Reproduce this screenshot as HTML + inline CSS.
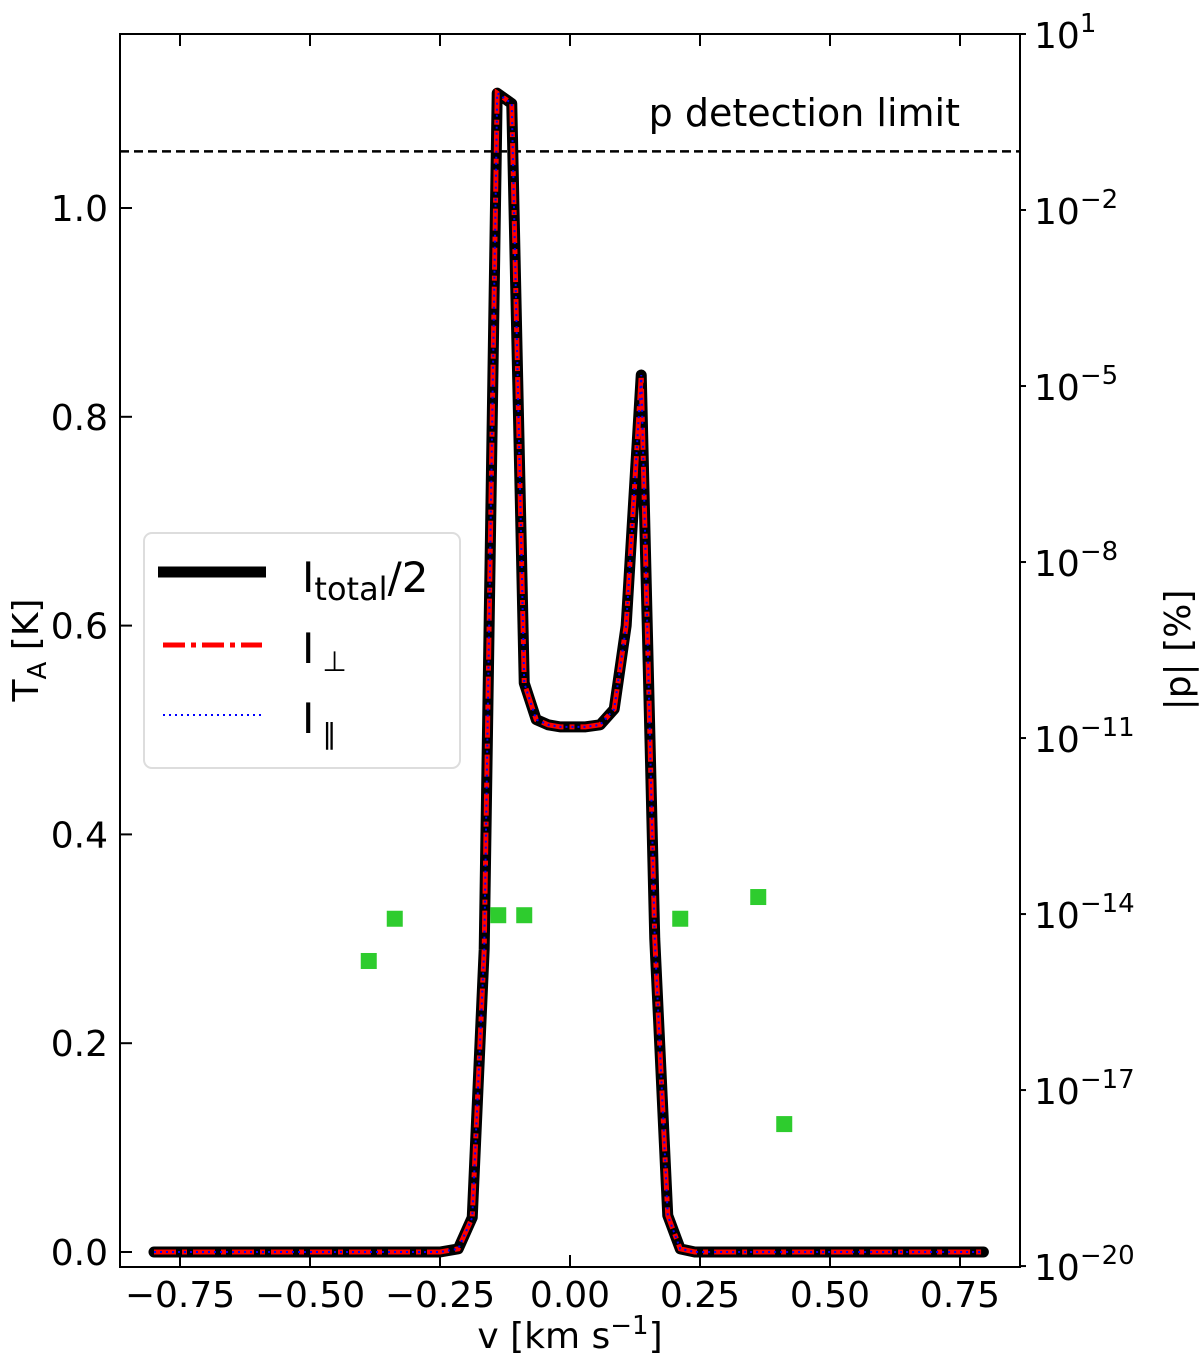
<!DOCTYPE html>
<html><head><meta charset="utf-8"><style>
body{margin:0;background:#fff}
svg{display:block;font-family:"DejaVu Sans","Liberation Sans",sans-serif}
</style></head><body>
<svg id="chart" width="1200" height="1364" viewBox="0 0 1200 1364">
<g id="plot"></g>
</svg>
<script>
const velocities=[-0.8,-0.6,-0.4,-0.25,-0.215,-0.188,-0.165,-0.140,-0.112,-0.088,-0.065,-0.042,-0.019,0.005,0.030,0.058,0.085,0.108,0.125,0.137,0.163,0.188,0.212,0.24,0.4,0.6,0.795];
const intensity=[0,0,0,0,0.003,0.033,0.29,1.11,1.10,0.545,0.51,0.505,0.503,0.503,0.503,0.505,0.52,0.60,0.74,0.84,0.30,0.035,0.003,0,0,0,0];
const polV=[-0.387,-0.337,-0.138,-0.088,0.212,0.362,0.412];
const polLog=[-14.8,-14.08,-14.02,-14.02,-14.08,-13.71,-17.58];
const detectionLog=[-1];
const xTicks=[-0.75,-0.5,-0.25,0,0.25,0.5,0.75];
const xTickLabels=["\u22120.75","\u22120.50","\u22120.25","0.00","0.25","0.50","0.75"];
const yTicks=[0,0.2,0.4,0.6,0.8,1.0];
const yTickLabels=["0.0","0.2","0.4","0.6","0.8","1.0"];
const rTicks=[1,-2,-5,-8,-11,-14,-17,-20];

const L=120,R=1020,T=34,B=1267;
const X=v=>570+v*520;
const Y=t=>1252-t*1044;
const YR=lg=>34+(1-lg)*58.67;
const NS="http://www.w3.org/2000/svg";
const g=document.getElementById('plot');
function mk(tag,attrs,parent){const e=document.createElementNS(NS,tag);for(const k in attrs)e.setAttribute(k,attrs[k]);(parent||g).appendChild(e);return e;}

detectionLog.forEach(d=>{
 const l=mk('line',{x1:L,x2:R,y1:YR(d),y2:YR(d),stroke:'#000','stroke-width':2.5,'stroke-dasharray':'9,5'});
 
 
});
const dt=mk('text',{x:960,y:126,'font-size':38,'text-anchor':'end'});dt.textContent='p detection limit';



const pts=velocities.map((v,i)=>X(v)+','+Y(intensity[i])).join(' ');
const l1=mk('polyline',{points:pts,fill:'none',stroke:'#000','stroke-width':11,'stroke-linejoin':'round','stroke-linecap':'round'});


const l2=mk('polyline',{points:pts,fill:'none',stroke:'#f00','stroke-width':5,'stroke-dasharray':'22,6,5,6'});


const l3=mk('polyline',{points:pts,fill:'none',stroke:'#00f','stroke-width':2,'stroke-dasharray':'2,4'});



polV.forEach((v,i)=>{
 const s=mk('rect',{x:X(v)-8,y:YR(polLog[i])-8,width:16,height:16,fill:'#2ecc2e'});
 
 
});

const fr=mk('rect',{x:L,y:T,width:R-L,height:B-T,fill:'none',stroke:'#000','stroke-width':2});



xTicks.forEach((v,i)=>{
 mk('line',{x1:X(v),x2:X(v),y1:B,y2:B-12,stroke:'#000','stroke-width':2});
 mk('line',{x1:X(v),x2:X(v),y1:T,y2:T+12,stroke:'#000','stroke-width':2});
 const t=mk('text',{x:X(v),y:B+40,'font-size':36,'text-anchor':'middle'});t.textContent=xTickLabels[i];
 
 
});
yTicks.forEach((v,i)=>{
 mk('line',{x1:L,x2:L+12,y1:Y(v),y2:Y(v),stroke:'#000','stroke-width':2});
 const t=mk('text',{x:L-12,y:Y(v)+13,'font-size':36,'text-anchor':'end'});t.textContent=yTickLabels[i];
 
 
});
rTicks.forEach(e=>{
 mk('line',{x1:R,x2:R+6,y1:YR(e),y2:YR(e),stroke:'#000','stroke-width':2});
 const t=mk('text',{x:R+14,y:YR(e)+14,'font-size':36});
 t.appendChild(document.createTextNode('10'));
 const sp=document.createElementNS(NS,'tspan');sp.setAttribute('dy',-16);sp.setAttribute('font-size',26);
 sp.textContent=e<0?'\u2212'+(-e):String(e);t.appendChild(sp);
 
 
});
</script>
<svg width="1200" height="1364" style="position:absolute;left:0;top:0" font-family="DejaVu Sans, Liberation Sans, sans-serif">
 <text x="570" y="1348" font-size="36" text-anchor="middle">v [km s<tspan dy="-14" font-size="26">−1</tspan><tspan dy="14">]</tspan></text>
 <text transform="translate(38,650) rotate(-90)" font-size="36" text-anchor="middle">T<tspan dy="8" font-size="26">A</tspan><tspan dy="-8"> [K]</tspan></text>
 <text transform="translate(1190,650) rotate(-90)" font-size="36" text-anchor="middle">|p| [%]</text>
 <g>
  <rect x="144" y="533" width="316" height="235" rx="8" fill="#fff" fill-opacity="0.85" stroke="#ddd" stroke-width="2"/>
  <line x1="158" x2="266" y1="572" y2="572" stroke="#000" stroke-width="11"/>
  <line x1="163" x2="262" y1="645" y2="645" stroke="#f00" stroke-width="5" stroke-dasharray="22,6,5,6"/>
  <line x1="163" x2="262" y1="715" y2="715" stroke="#00f" stroke-width="2" stroke-dasharray="2,4"/>
  <text x="302" y="592" font-size="42">I<tspan dy="8" font-size="32">total</tspan><tspan dy="-8">/2</tspan></text>
  <text x="302" y="663" font-size="42">I<tspan dx="8" dy="8" font-size="28">⊥</tspan></text>
  <text x="302" y="733" font-size="42">I<tspan dx="8" dy="10" font-size="28">‖</tspan></text>
 </g>
</svg>
</body></html>
